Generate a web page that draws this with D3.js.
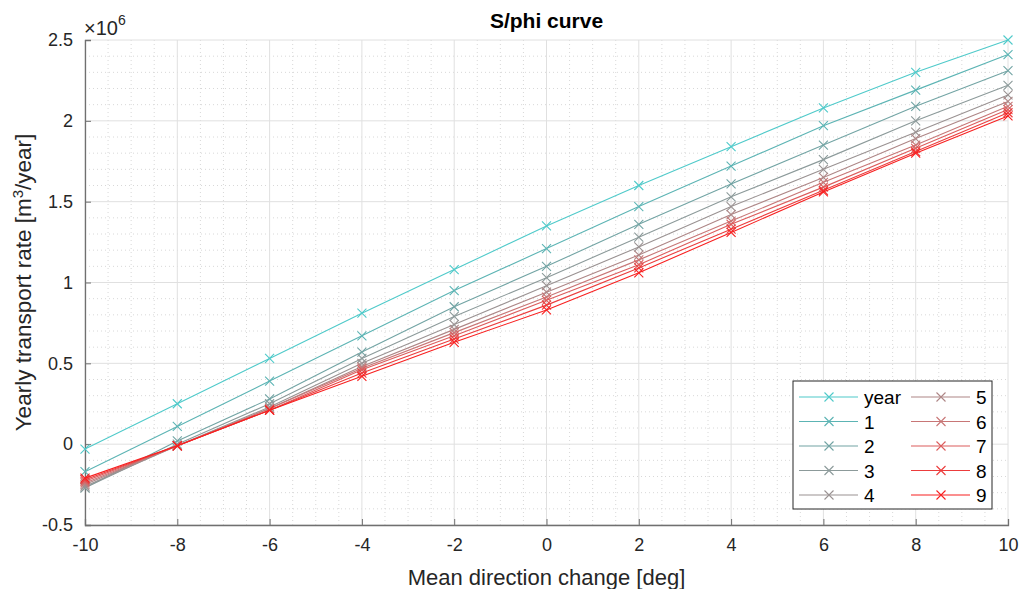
<!DOCTYPE html>
<html>
<head>
<meta charset="utf-8">
<script src="https://cdn.jsdelivr.net/npm/d3@7"></script>
<style>
body { margin: 0; background: #fff; }
text { font-family: "Liberation Sans", Arial, sans-serif; }
</style>
</head>
<body>
<svg id="chart"></svg>
<script>
var width = 1021, height = 589;

// data (values in 1e6 m3/year)
var xValues = [-10, -8, -6, -4, -2, 0, 2, 4, 6, 8, 10];
var seriesNames = ['year', '1', '2', '3', '4', '5', '6', '7', '8', '9'];
var seriesColors = ['#4fcaca', '#5cb4b4', '#72a4a4', '#8c9a9a', '#9a9292', '#ae8686', '#c87676', '#dc5c5c', '#ec3c3c', '#f82020'];
var yearValues = [-0.03, 0.25, 0.53, 0.81, 1.08, 1.35, 1.60, 1.84, 2.08, 2.30, 2.50];
var s1Values = [-0.17, 0.11, 0.39, 0.67, 0.95, 1.21, 1.47, 1.72, 1.97, 2.19, 2.41];
var s2Values = [-0.27, 0.02, 0.28, 0.57, 0.85, 1.10, 1.36, 1.61, 1.85, 2.09, 2.31];
var s3Values = [-0.27, 0.00, 0.25, 0.53, 0.79, 1.03, 1.28, 1.53, 1.76, 2.00, 2.22];
var s4Values = [-0.26, -0.01, 0.23, 0.50, 0.74, 0.98, 1.22, 1.47, 1.70, 1.93, 2.16];
var s5Values = [-0.25, -0.01, 0.22, 0.48, 0.71, 0.94, 1.17, 1.42, 1.65, 1.89, 2.12];
var s6Values = [-0.24, -0.01, 0.22, 0.47, 0.69, 0.91, 1.14, 1.38, 1.62, 1.85, 2.09];
var s7Values = [-0.23, -0.01, 0.21, 0.46, 0.67, 0.89, 1.11, 1.36, 1.59, 1.83, 2.07];
var s8Values = [-0.22, -0.01, 0.21, 0.44, 0.65, 0.86, 1.09, 1.33, 1.57, 1.81, 2.05];
var s9Values = [-0.21, -0.01, 0.21, 0.42, 0.63, 0.83, 1.06, 1.31, 1.56, 1.80, 2.03];
var allValues = [yearValues, s1Values, s2Values, s3Values, s4Values, s5Values, s6Values, s7Values, s8Values, s9Values];

var xTicks = [-10, -8, -6, -4, -2, 0, 2, 4, 6, 8, 10];
var yTicks = [-0.5, 0, 0.5, 1, 1.5, 2, 2.5];

var margin = {left: 85, right: 13, top: 40, bottom: 64};

var svg = d3.select('#chart')
	.attr('width', width)
	.attr('height', height);

var x = d3.scaleLinear()
	.domain([-10, 10])
	.range([margin.left, width - margin.right]);

var y = d3.scaleLinear()
	.domain([-0.5, 2.5])
	.range([height - margin.bottom, margin.top]);

// minor grid
var minorX = d3.range(-10, 10.01, 0.5).filter(function(v) { return Math.abs(v % 2) > 0.01; });
var minorY = d3.range(-0.5, 2.501, 0.1).filter(function(v) { return Math.abs(Math.round(v * 10) % 5) != 0; });

svg.append('g').selectAll('line')
	.data(minorX)
	.enter().append('line')
	.attr('x1', function(d) { return x(d); })
	.attr('x2', function(d) { return x(d); })
	.attr('y1', y(-0.5))
	.attr('y2', y(2.5))
	.attr('stroke', '#d8d8d8')
	.attr('stroke-dasharray', '1,3');

svg.append('g').selectAll('line')
	.data(minorY)
	.enter().append('line')
	.attr('x1', x(-10))
	.attr('x2', x(10))
	.attr('y1', function(d) { return y(d); })
	.attr('y2', function(d) { return y(d); })
	.attr('stroke', '#d8d8d8')
	.attr('stroke-dasharray', '1,3');

// major grid
svg.append('g').selectAll('line')
	.data(xTicks)
	.enter().append('line')
	.attr('x1', function(d) { return x(d); })
	.attr('x2', function(d) { return x(d); })
	.attr('y1', y(-0.5))
	.attr('y2', y(2.5))
	.attr('stroke', '#e0e0e0');

svg.append('g').selectAll('line')
	.data(yTicks)
	.enter().append('line')
	.attr('x1', x(-10))
	.attr('x2', x(10))
	.attr('y1', function(d) { return y(d); })
	.attr('y2', function(d) { return y(d); })
	.attr('stroke', '#e0e0e0');

// axes (plain hyphen minus like the original)
var fmt = function(d) { return String(d); };

var xAxis = d3.axisBottom(x)
	.tickValues(xTicks)
	.tickSize(-6)
	.tickPadding(12)
	.tickFormat(fmt);

var yAxis = d3.axisLeft(y)
	.tickValues(yTicks)
	.tickSize(-6)
	.tickPadding(12)
	.tickFormat(fmt);

var gx = svg.append('g')
	.attr('transform', 'translate(0,' + y(-0.5) + ')')
	.call(xAxis);
var gy = svg.append('g')
	.attr('transform', 'translate(' + x(-10) + ',0)')
	.call(yAxis);

[gx, gy].forEach(function(g) {
	g.attr('font-size', 18).attr('font-family', '"Liberation Sans", Arial, sans-serif');
	g.select('.domain').attr('stroke', '#707070').attr('stroke-width', 1.3);
	g.selectAll('.tick line').attr('stroke', '#707070');
	g.selectAll('.tick text').attr('fill', '#262626');
});
gx.selectAll('.tick text').attr('dy', '0.75em');

// lines
var line = d3.line()
	.x(function(d, i) { return x(xValues[i]); })
	.y(function(d) { return y(d); });

var cross = function(sel, size) {
	sel.append('path')
		.attr('d', 'M' + (-size) + ',' + (-size) + 'L' + size + ',' + size + 'M' + (-size) + ',' + size + 'L' + size + ',' + (-size));
};

allValues.forEach(function(vals, s) {
	var g = svg.append('g');
	g.append('path')
		.datum(vals)
		.attr('d', line)
		.attr('fill', 'none')
		.attr('stroke', seriesColors[s])
		.attr('stroke-width', 1.1);
	g.selectAll('.mk')
		.data(vals)
		.enter().append('g')
		.attr('transform', function(d, i) { return 'translate(' + x(xValues[i]) + ',' + y(d) + ')'; })
		.each(function() { cross(d3.select(this), 4.5); })
		.selectAll('path')
		.attr('stroke', seriesColors[s])
		.attr('stroke-width', 1.1)
		.attr('fill', 'none');
});

// exponent label
var expo = svg.append('text')
	.attr('x', 84)
	.attr('y', 35)
	.attr('fill', '#262626')
	.attr('font-size', 20);
expo.append('tspan').text('\u00d710');
expo.append('tspan').attr('dy', -10).attr('font-size', 14).text('6');

// title
svg.append('text')
	.attr('x', (x(-10) + x(10)) / 2)
	.attr('y', 28)
	.attr('text-anchor', 'middle')
	.attr('fill', '#000')
	.attr('font-size', 21)
	.attr('font-weight', 'bold')
	.text('S/phi curve');

// x label
svg.append('text')
	.attr('x', (x(-10) + x(10)) / 2)
	.attr('y', 585)
	.attr('text-anchor', 'middle')
	.attr('fill', '#262626')
	.attr('font-size', 22)
	.text('Mean direction change [deg]');

// y label
var ylab = svg.append('text')
	.attr('transform', 'translate(31,' + ((y(-0.5) + y(2.5)) / 2) + ') rotate(-90)')
	.attr('text-anchor', 'middle')
	.attr('fill', '#262626')
	.attr('font-size', 22.5);
ylab.append('tspan').text('Yearly transport rate [m');
ylab.append('tspan').attr('dy', -8).attr('font-size', 15).text('3');
ylab.append('tspan').attr('dy', 8).text('/year]');

// legend
var legX = 793, legY = 381, legW = 199, legH = 128;
svg.append('rect')
	.attr('x', legX)
	.attr('y', legY)
	.attr('width', legW)
	.attr('height', legH)
	.attr('fill', '#fff')
	.attr('stroke', '#262626')
	.attr('stroke-width', 1);

seriesNames.forEach(function(name, s) {
	var col = Math.floor(s / 5), row = s % 5;
	var lx = legX + 6 + col * 112;
	var ly = legY + 16 + row * 24.5;
	var g = svg.append('g');
	g.append('line')
		.attr('x1', lx).attr('x2', lx + 59)
		.attr('y1', ly).attr('y2', ly)
		.attr('stroke', seriesColors[s])
		.attr('stroke-width', 1.1);
	var m = g.append('g').attr('transform', 'translate(' + (lx + 30) + ',' + ly + ')');
	cross(m, 4.5);
	m.selectAll('path').attr('stroke', seriesColors[s]).attr('stroke-width', 1.1);
	g.append('text')
		.attr('x', lx + 65)
		.attr('y', ly + 7)
		.attr('fill', '#000')
		.attr('font-size', 19)
		.text(name);
});
</script>
</body>
</html>
